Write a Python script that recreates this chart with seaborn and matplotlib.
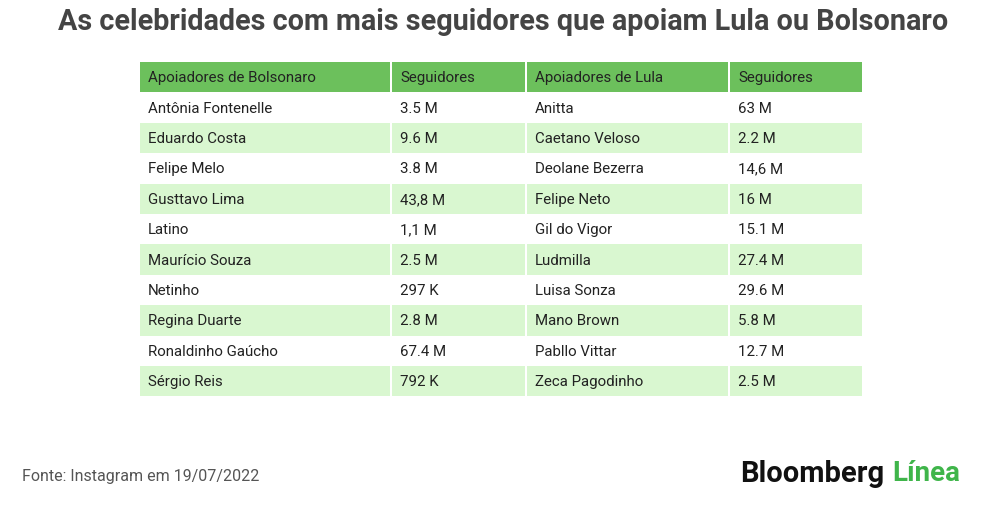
import matplotlib
matplotlib.use("Agg")
import matplotlib.pyplot as plt
import seaborn as sns
from matplotlib.patches import Rectangle

title = "As celebridades com mais seguidores que apoiam Lula ou Bolsonaro"
headers = ["Apoiadores de Bolsonaro", "Seguidores", "Apoiadores de Lula", "Seguidores"]
bolsonaro = ["Antônia Fontenelle", "Eduardo Costa", "Felipe Melo", "Gusttavo Lima", "Latino",
             "Maurício Souza", "Netinho", "Regina Duarte", "Ronaldinho Gaúcho", "Sérgio Reis"]
bolsonaro_seg = ["3.5 M", "9.6 M", "3.8 M", "43,8 M", "1,1 M", "2.5 M", "297 K", "2.8 M", "67.4 M", "792 K"]
lula = ["Anitta", "Caetano Veloso", "Deolane Bezerra", "Felipe Neto", "Gil do Vigor",
        "Ludmilla", "Luisa Sonza", "Mano Brown", "Pabllo Vittar", "Zeca Pagodinho"]
lula_seg = ["63 M", "2.2 M", "14,6 M", "16 M", "15.1 M", "27.4 M", "29.6 M", "5.8 M", "12.7 M", "2.5 M"]

sns.set_theme(style="white")
plt.rcParams["font.family"] = ["Roboto", "DejaVu Sans"]

fig = plt.figure(figsize=(10, 5.1), dpi=100)
ax = fig.add_axes([0, 0, 1, 1])
ax.set_xlim(0, 1000)
ax.set_ylim(510, 0)
ax.axis("off")

col_x = [140, 392, 527, 730, 864]
row_h = 30.4
top = 63
header_c = "#6cc05c"
stripe_c = "#d9f7d0"

columns = [bolsonaro, bolsonaro_seg, lula, lula_seg]
nrows = len(bolsonaro)
for c in range(4):
    x0, x1 = col_x[c], col_x[c + 1]
    w = x1 - x0 - 2
    ax.add_patch(Rectangle((x0, top), w, row_h, color=header_c, lw=0))
    ax.text(x0 + 8, top + row_h / 2, headers[c], fontsize=10.8, color="#222222", va="center")
    for r in range(nrows):
        y = top + (r + 1) * row_h
        if r % 2 == 1:
            ax.add_patch(Rectangle((x0, y), w, row_h, color=stripe_c, lw=0))
        ax.text(x0 + 8, y + row_h / 2, columns[c][r], fontsize=10.8, color="#222222", va="center")

ax.text(503, 22, title, fontsize=20.7, fontweight="bold", color="#444444", ha="center", va="center")
ax.text(22, 477, "Fonte: Instagram em 19/07/2022", fontsize=11.5, color="#555555", va="center")
ax.text(740, 474, "Bloomberg", fontsize=21, fontweight="bold", color="#111111", va="center")
ax.text(892, 474, "Línea", fontsize=20, fontweight="bold", color="#3fb54a", va="center")

fig.savefig("out.png", dpi=100)
